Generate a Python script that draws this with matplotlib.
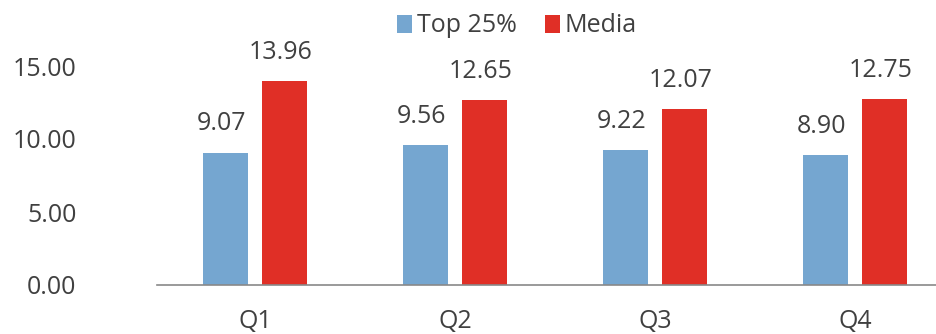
import numpy as np
import matplotlib.pyplot as plt

quarters = ['Q1', 'Q2', 'Q3', 'Q4']
top25 = [9.07, 9.56, 9.22, 8.90]
media = [13.96, 12.65, 12.07, 12.75]

plt.rcParams['font.family'] = ['Open Sans', 'DejaVu Sans']
text_col = '#404040'
blue = '#75A6D0'
red = '#E02F26'

fig = plt.figure(figsize=(9.37, 3.34), dpi=100)
ax = fig.add_axes([157 / 937, (334 - 285) / 334, 1 - 157 / 937, (285 - 40) / 334])

x = np.arange(len(quarters))
w = 0.225
off = 0.1475
b1 = ax.bar(x - off, top25, w, color=blue, label='Top 25%')
b2 = ax.bar(x + off, media, w, color=red, label='Media')

for bars, vals in ((b1, top25), (b2, media)):
    for rect, v in zip(bars, vals):
        ax.text(rect.get_x() + rect.get_width() / 2 - 0.02, v + 1.52, f'{v:.2f}',
                ha='center', va='baseline', fontsize=18, color=text_col)

ax.set_xlim(-0.49, 3.41)
ax.set_ylim(0, 245 / 14.6)
ax.set_yticks([0, 5, 10, 15])
ax.set_yticklabels([f'{t:.2f}' for t in [0, 5, 10, 15]])
ax.set_xticks(x)
ax.set_xticklabels(quarters)
ax.tick_params(axis='both', length=0, labelsize=18, colors=text_col)
ax.tick_params(axis='y', pad=58)
ax.tick_params(axis='x', pad=17)

for s in ['top', 'right', 'left']:
    ax.spines[s].set_visible(False)
ax.spines['bottom'].set_color('#898989')
ax.spines['bottom'].set_linewidth(1.2)

fig.legend(loc='center', bbox_to_anchor=(517 / 937, 1 - 26 / 334), ncol=2, frameon=False,
           fontsize=18, handlelength=0.6, handleheight=0.7, handletextpad=0.2,
           columnspacing=1.1, labelcolor=text_col, borderaxespad=0, borderpad=0)

fig.savefig('out.png', dpi=100)
